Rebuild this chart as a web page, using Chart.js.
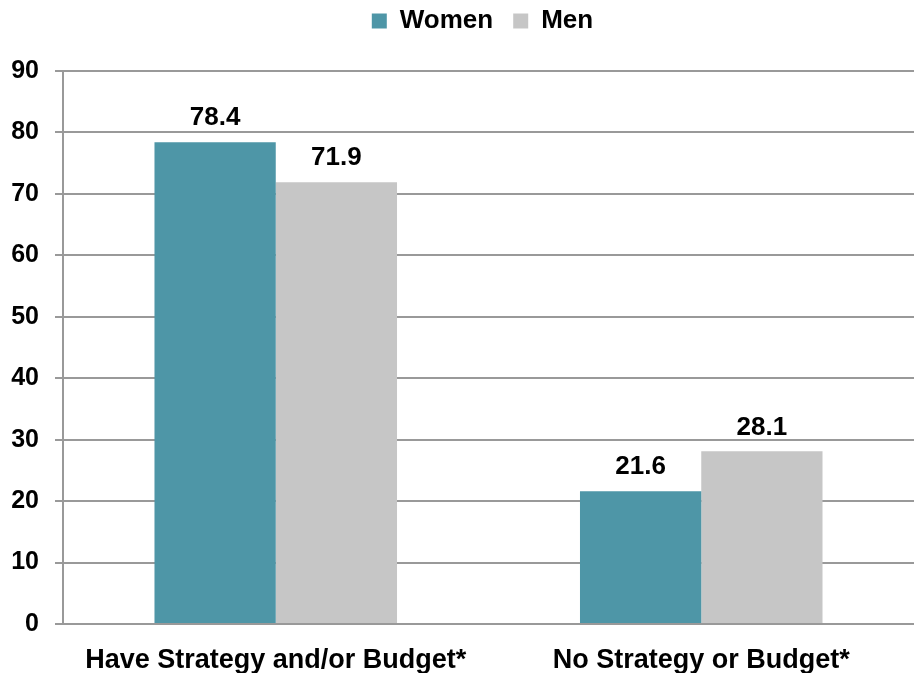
<!DOCTYPE html>
<html>
<head>
<meta charset="utf-8">
<script src="https://cdn.jsdelivr.net/npm/chart.js@4/dist/chart.umd.min.js"></script>
<style>
  html, body { margin: 0; padding: 0; background: #fff; }
  #wrap { width: 914px; height: 673px; position: relative; }
</style>
</head>
<body>
<div id="wrap"><canvas id="chart"></canvas></div>
<script>
// Chart data
const categories = ['Have Strategy and/or Budget*', 'No Strategy or Budget*'];
const women = [78.4, 21.6];
const men = [71.9, 28.1];

const FONT = '"Liberation Sans", Arial, sans-serif';

// Draw value labels above bars
const valueLabels = {
    id: 'valueLabels',
    afterDatasetsDraw(chart) {
        const ctx = chart.ctx;
        ctx.save();
        ctx.font = 'bold 26px ' + FONT;
        ctx.fillStyle = '#000';
        ctx.textAlign = 'center';
        ctx.textBaseline = 'bottom';
        chart.data.datasets.forEach((ds, i) => {
            chart.getDatasetMeta(i).data.forEach((bar, j) => {
                ctx.fillText(ds.data[j].toFixed(1), bar.x, bar.y - 11);
            });
        });
        ctx.restore();
    }
};

// Extra space under the legend, and shift it over the plot
const legendGap = {
    id: 'legendGap',
    beforeInit(chart) {
        const fit = chart.legend.fit;
        chart.legend.fit = function() {
            fit.bind(chart.legend)();
            this.height += 27;
        };
    },
    afterLayout(chart) {
        chart.legend.left += 20;
        chart.legend.right += 20;
    }
};

const ctx = document.getElementById('chart').getContext('2d');
const chart = new Chart(ctx, {
    type: 'bar',
    data: {
        labels: categories,
        datasets: [
            { label: 'Women', data: women, backgroundColor: '#4E96A7', categoryPercentage: 0.57, barPercentage: 1.0 },
            { label: 'Men', data: men, backgroundColor: '#C6C6C6', categoryPercentage: 0.57, barPercentage: 1.0 }
        ]
    },
    options: {
        responsive: true,
        maintainAspectRatio: false,
        animation: false,
        layout: { padding: { left: 0, right: -11, top: -12, bottom: 0 } },
        plugins: {
            legend: {
                position: 'top',
                labels: {
                    boxWidth: 15,
                    boxHeight: 15,
                    padding: 20,
                    color: '#000',
                    font: { family: FONT, size: 26, weight: 'bold' }
                }
            },
            tooltip: { enabled: false }
        },
        scales: {
            x: {
                grid: { display: false, drawTicks: false },
                border: { color: '#999', width: 2 },
                ticks: { color: '#000', padding: 20, font: { family: FONT, size: 27, weight: 'bold' } },
                afterFit(scale) { scale.height = 49; }
            },
            y: {
                min: 0,
                max: 90,
                ticks: { stepSize: 10, color: '#000', padding: 16, font: { family: FONT, size: 25, weight: 'bold' } },
                grid: { color: '#999', lineWidth: 2, tickLength: 8 },
                border: { color: '#999', width: 2 },
                afterFit(scale) { scale.width = 63; }
            }
        }
    },
    plugins: [valueLabels, legendGap]
});
</script>
</body>
</html>
